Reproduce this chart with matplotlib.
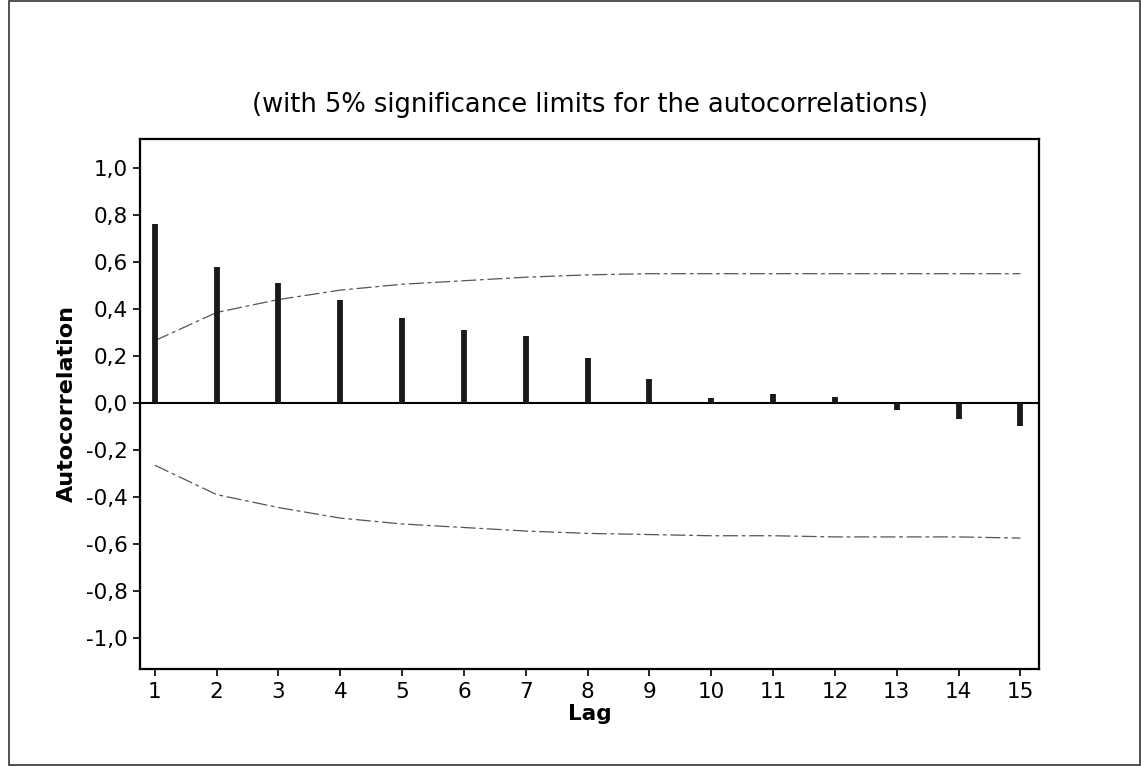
import numpy as np
import matplotlib.pyplot as plt
from matplotlib.patches import Rectangle

# autocorrelation function
lags = list(range(1, 16))
acf = [0.76, 0.58, 0.51, 0.44, 0.36, 0.31, 0.285, 0.19, 0.10,
       0.02, 0.04, 0.025, -0.03, -0.07, -0.10]
# 5% significance limits (upper and lower as drawn)
upper_lim = [0.265, 0.385, 0.44, 0.48, 0.505, 0.52, 0.535, 0.545, 0.55,
             0.55, 0.55, 0.55, 0.55, 0.55, 0.55]
lower_lim = [-0.265, -0.39, -0.445, -0.49, -0.515, -0.53, -0.545, -0.555, -0.56,
             -0.565, -0.565, -0.57, -0.57, -0.57, -0.575]
yticks = [-1.0, -0.8, -0.6, -0.4, -0.2, 0.0, 0.2, 0.4, 0.6, 0.8, 1.0]
ytick_labels = ['-1,0', '-0,8', '-0,6', '-0,4', '-0,2', '0,0',
                '0,2', '0,4', '0,6', '0,8', '1,0']

fig = plt.figure(figsize=(11.41, 7.66), dpi=100)
# outer frame around the whole graph
fig.patches.append(Rectangle((9 / 1141, 1 / 766), 1 - 10 / 1141, 1 - 2 / 766,
                             transform=fig.transFigure, fill=False,
                             edgecolor='#333333', linewidth=1.2))

ax = fig.add_axes([140 / 1141, 1 - 669 / 766, 899 / 1141, 530 / 766])
ax.set_xlim(0.76, 15.3)
ax.set_ylim(-1.132, 1.123)

ax.axhline(0, color='black', linewidth=1.5, zorder=1)
ax.vlines(lags, 0, acf, color='#1a1a1a', linewidth=4.2, zorder=3)
dash = (0, (12, 3, 3, 3))
ax.plot(lags, upper_lim, color='#555555', linewidth=0.9, linestyle=dash, zorder=2)
ax.plot(lags, lower_lim, color='#555555', linewidth=0.9, linestyle=dash, zorder=2)

ax.set_xticks(lags)
ax.set_xticklabels([str(l) for l in lags], fontsize=15.5)
ax.set_yticks(yticks)
ax.set_yticklabels(ytick_labels, fontsize=15.5)
ax.tick_params(axis='both', width=1.2, length=5, pad=4)
for s in ax.spines.values():
    s.set_linewidth(1.6)

ax.set_xlabel('Lag', fontsize=15.5, fontweight='bold', labelpad=2)
ax.set_ylabel('Autocorrelation', fontsize=16, fontweight='bold', labelpad=6)
fig.text(590 / 1141, 1 - 105 / 766,
         '(with 5% significance limits for the autocorrelations)',
         ha='center', va='center', fontsize=18.5)

fig.savefig('out.png', dpi=100)
